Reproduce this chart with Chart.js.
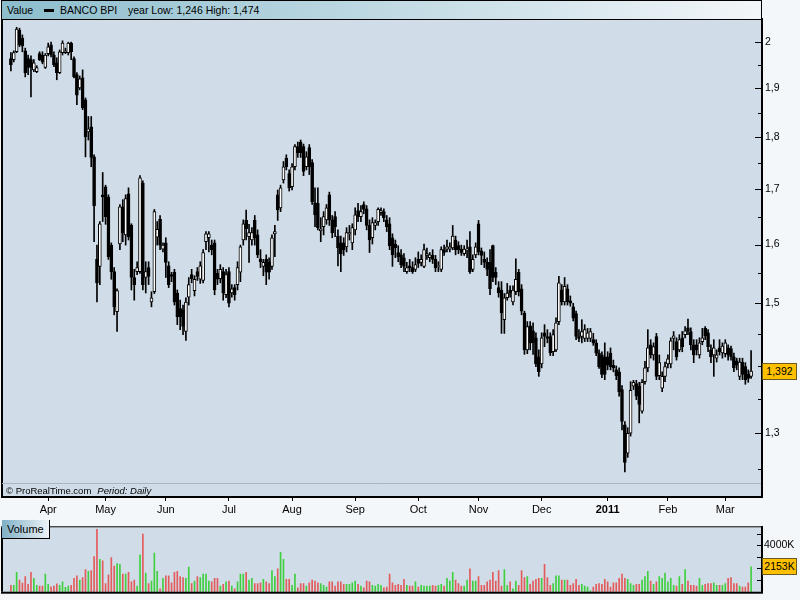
<!DOCTYPE html>
<html>
<head>
<meta charset="utf-8">
<title>BANCO BPI</title>
<script src="https://cdn.jsdelivr.net/npm/chart.js@4.4.1/dist/chart.umd.min.js"></script>
<style>
  body { margin: 0; background: #f4f7fa; font-family: 'Liberation Sans', Arial, sans-serif; color: #000; }
  #wrap { position: relative; width: 800px; height: 600px; overflow: hidden; }
  canvas { position: absolute; left: 0; }
  #priceCanvas { top: 0; }
  #volCanvas { top: 519px; }
  .head { position: absolute; left: 1px; top: 0; width: 759px; height: 18px; border: 1px solid #000;
          background: linear-gradient(to right, #8cbdcd, #f3f6f9); font-size: 10.5px; line-height: 18px; }
  .head span { position: absolute; top: 0; white-space: nowrap; }
  .head .icon { top: 8px; width: 10px; height: 3px; background: #000; }
  .foot { position: absolute; left: 6px; top: 484px; font-size: 9.5px; line-height: 13px; white-space: nowrap; }
  .foot i { margin-left: 6px; }
  .vol { position: absolute; left: 2px; top: 520px; width: 42px; height: 18px; padding-left: 5px;
         border-right: 1px solid #000; border-bottom: 1px solid #000;
         background: linear-gradient(to right, #7fb0c6, #eef3f7); font-size: 11px; line-height: 18px; }
  .tag { position: absolute; left: 762px; width: 33px; height: 15px; background: #ffc000; border: 1px solid #6b5a20;
         font-size: 10.5px; line-height: 15px; text-align: center; }
</style>
</head>
<body>
<div id="wrap">
  <canvas id="priceCanvas" width="800" height="519"></canvas>
  <canvas id="volCanvas" width="800" height="81"></canvas>
  <div class="head">
    <span style="left:5px">Value</span>
    <span class="icon" style="left:42px"></span>
    <span style="left:58px">BANCO BPI</span>
    <span id="yearText" style="left:126px"></span>
  </div>
  <div class="foot">© ProRealTime.com<i>Period: Daily</i></div>
  <div class="vol">Volume</div>
  <div class="tag" id="priceTag"></div>
  <div class="tag" id="volTag"></div>
</div>
<script>
'use strict';

// trading calendar (Euronext Lisbon, daily)
const startDay = '2010-03-15';
const endDay = '2011-03-14';
const holidays = ['2010-04-02', '2010-04-05'];
const monthLabels = ['Apr', 'May', 'Jun', 'Jul', 'Aug', 'Sep', 'Oct', 'Nov', 'Dec', '2011', 'Feb', 'Mar'];

const priceTicks = [1.25, 1.3, 1.35, 1.4, 1.45, 1.5, 1.55, 1.6, 1.65, 1.7, 1.75, 1.8, 1.85, 1.9, 1.95, 2];
const priceLabels = [1.3, 1.5, 1.6, 1.7, 1.8, 1.9, 2];
const volumeTicks = [1000, 2000, 3000, 4000, 5000];
const volumeLabels = [4000];

const opens = [
  1.963,1.961,1.978,2.026,2.008,1.980,1.963,1.961,1.939,1.935,
  1.974,1.971,1.944,1.974,1.993,1.971,1.954,1.933,1.976,1.976,
  1.976,1.997,1.963,1.929,1.901,1.922,1.876,1.811,1.821,1.762,
  1.574,1.562,1.690,1.705,1.686,1.599,1.553,1.486,1.601,1.668,
  1.617,1.692,1.634,1.543,1.553,1.553,1.712,1.543,1.560,1.502,
  1.519,1.613,1.645,1.592,1.603,1.563,1.548,1.552,1.517,1.491,
  1.489,1.454,1.510,1.548,1.521,1.553,1.540,1.538,1.605,1.612,
  1.599,1.603,1.550,1.541,1.553,1.514,1.553,1.517,1.526,1.531,
  1.552,1.608,1.643,1.614,1.608,1.643,1.617,1.575,1.562,1.574,
  1.570,1.562,1.619,1.690,1.666,1.718,1.759,1.730,1.705,1.743,
  1.782,1.791,1.782,1.743,1.780,1.751,1.675,1.674,1.624,1.632,
  1.644,1.690,1.644,1.650,1.615,1.603,1.603,1.596,1.619,1.603,
  1.626,1.661,1.650,1.672,1.664,1.634,1.612,1.634,1.641,1.657,
  1.659,1.644,1.637,1.612,1.601,1.586,1.582,1.577,1.553,1.563,
  1.560,1.557,1.574,1.569,1.562,1.581,1.577,1.581,1.574,1.562,
  1.557,1.591,1.592,1.592,1.594,1.608,1.598,1.592,1.584,1.591,
  1.596,1.557,1.582,1.637,1.589,1.574,1.569,1.569,1.598,1.552,
  1.526,1.522,1.473,1.509,1.522,1.502,1.519,1.552,1.524,1.484,
  1.425,1.463,1.455,1.444,1.414,1.403,1.452,1.446,1.446,1.422,
  1.425,1.470,1.522,1.502,1.524,1.504,1.494,1.483,1.446,1.446,
  1.443,1.443,1.443,1.441,1.436,1.420,1.417,1.414,1.414,1.420,
  1.401,1.394,1.391,1.364,1.312,1.272,1.300,1.369,1.373,1.369,
  1.332,1.376,1.397,1.433,1.417,1.446,1.385,1.366,1.384,1.403,
  1.403,1.443,1.438,1.425,1.444,1.449,1.460,1.454,1.433,1.433,
  1.417,1.438,1.459,1.452,1.425,1.417,1.412,1.428,1.420,1.419,
  1.428,1.427,1.414,1.408,1.384,1.406,1.399,1.387,1.384
];
const highs = [
  1.976,1.980,2.032,2.030,2.015,1.986,1.971,1.969,1.961,1.948,
  1.978,1.978,1.974,1.997,1.999,1.978,1.965,1.982,2.002,1.986,
  1.999,1.999,1.967,1.933,1.926,1.939,1.880,1.842,1.842,1.766,
  1.599,1.641,1.732,1.708,1.690,1.603,1.560,1.524,1.672,1.681,
  1.690,1.703,1.637,1.557,1.570,1.726,1.716,1.570,1.570,1.519,
  1.663,1.641,1.652,1.603,1.612,1.570,1.552,1.557,1.522,1.505,
  1.497,1.509,1.543,1.557,1.546,1.560,1.570,1.591,1.623,1.623,
  1.608,1.608,1.557,1.565,1.560,1.557,1.560,1.531,1.531,1.570,
  1.599,1.644,1.662,1.636,1.630,1.652,1.626,1.591,1.574,1.582,
  1.577,1.617,1.634,1.699,1.708,1.753,1.766,1.737,1.749,1.786,
  1.791,1.795,1.787,1.772,1.786,1.757,1.703,1.703,1.648,1.659,
  1.672,1.695,1.652,1.659,1.626,1.615,1.612,1.630,1.634,1.637,
  1.666,1.674,1.670,1.677,1.670,1.644,1.648,1.644,1.666,1.666,
  1.664,1.652,1.648,1.619,1.608,1.598,1.591,1.584,1.569,1.574,
  1.570,1.577,1.587,1.582,1.601,1.594,1.586,1.591,1.581,1.570,
  1.596,1.599,1.608,1.603,1.634,1.615,1.605,1.599,1.598,1.608,
  1.623,1.582,1.603,1.643,1.594,1.587,1.577,1.591,1.599,1.560,
  1.536,1.536,1.516,1.533,1.529,1.529,1.575,1.557,1.531,1.487,
  1.470,1.470,1.468,1.452,1.425,1.452,1.465,1.457,1.452,1.457,
  1.476,1.545,1.531,1.543,1.531,1.512,1.500,1.487,1.457,1.473,
  1.465,1.459,1.459,1.451,1.441,1.425,1.422,1.436,1.422,1.428,
  1.409,1.400,1.397,1.370,1.317,1.308,1.376,1.378,1.378,1.375,
  1.379,1.407,1.457,1.441,1.436,1.451,1.417,1.391,1.406,1.417,
  1.444,1.454,1.444,1.449,1.454,1.462,1.474,1.460,1.441,1.441,
  1.444,1.459,1.462,1.457,1.433,1.441,1.425,1.441,1.436,1.441,
  1.433,1.431,1.420,1.412,1.412,1.412,1.405,1.394,1.424
];
const lows = [
  1.937,1.956,1.976,1.989,1.978,1.924,1.929,1.882,1.935,1.933,
  1.959,1.952,1.942,1.969,1.967,1.946,1.918,1.931,1.971,1.974,
  1.971,1.961,1.922,1.866,1.897,1.856,1.762,1.795,1.743,1.605,
  1.502,1.531,1.641,1.636,1.574,1.540,1.481,1.454,1.591,1.605,
  1.599,1.608,1.522,1.505,1.548,1.550,1.522,1.517,1.531,1.494,
  1.516,1.599,1.591,1.587,1.543,1.526,1.536,1.497,1.465,1.457,
  1.449,1.440,1.497,1.534,1.512,1.538,1.533,1.534,1.591,1.587,
  1.582,1.514,1.531,1.534,1.505,1.509,1.494,1.510,1.505,1.522,
  1.536,1.599,1.608,1.569,1.599,1.599,1.577,1.560,1.546,1.531,
  1.540,1.557,1.579,1.643,1.659,1.712,1.737,1.697,1.699,1.737,
  1.761,1.761,1.726,1.737,1.728,1.672,1.632,1.626,1.605,1.617,
  1.636,1.634,1.612,1.614,1.563,1.553,1.581,1.587,1.608,1.591,
  1.617,1.641,1.641,1.655,1.626,1.586,1.601,1.626,1.634,1.652,
  1.641,1.623,1.591,1.562,1.577,1.570,1.560,1.553,1.550,1.553,
  1.550,1.553,1.560,1.563,1.560,1.574,1.570,1.567,1.553,1.553,
  1.553,1.581,1.587,1.587,1.591,1.582,1.584,1.581,1.581,1.577,
  1.550,1.553,1.577,1.582,1.565,1.560,1.546,1.514,1.536,1.531,
  1.510,1.451,1.451,1.505,1.510,1.497,1.514,1.512,1.481,1.418,
  1.419,1.425,1.418,1.399,1.384,1.397,1.430,1.436,1.416,1.416,
  1.422,1.465,1.497,1.497,1.497,1.495,1.471,1.441,1.438,1.436,
  1.438,1.438,1.438,1.432,1.416,1.396,1.382,1.379,1.394,1.394,
  1.391,1.379,1.354,1.305,1.246,1.266,1.296,1.364,1.349,1.315,
  1.329,1.372,1.391,1.412,1.409,1.379,1.379,1.361,1.376,1.397,
  1.397,1.425,1.409,1.422,1.422,1.444,1.449,1.425,1.405,1.417,
  1.412,1.433,1.441,1.422,1.405,1.384,1.406,1.417,1.412,1.414,
  1.409,1.409,1.391,1.394,1.379,1.379,1.372,1.375,1.381
];
const closes = [
  1.950,1.976,2.028,1.993,1.991,1.933,1.944,1.944,1.954,1.944,
  1.961,1.956,1.971,1.989,1.971,1.950,1.933,1.978,1.997,1.980,
  1.997,1.978,1.924,1.886,1.920,1.860,1.801,1.817,1.761,1.670,
  1.534,1.637,1.686,1.650,1.579,1.553,1.494,1.521,1.668,1.621,
  1.683,1.614,1.543,1.531,1.560,1.722,1.531,1.553,1.545,1.509,
  1.659,1.627,1.599,1.599,1.569,1.531,1.545,1.502,1.478,1.478,
  1.462,1.502,1.531,1.541,1.540,1.545,1.563,1.586,1.619,1.619,
  1.591,1.522,1.540,1.557,1.517,1.548,1.500,1.524,1.514,1.560,
  1.596,1.637,1.628,1.621,1.621,1.612,1.582,1.570,1.569,1.552,
  1.552,1.612,1.623,1.662,1.703,1.743,1.743,1.703,1.743,1.782,
  1.770,1.770,1.734,1.762,1.743,1.677,1.653,1.630,1.628,1.650,
  1.666,1.644,1.621,1.632,1.594,1.584,1.591,1.621,1.621,1.630,
  1.653,1.650,1.659,1.663,1.634,1.608,1.639,1.639,1.663,1.661,
  1.648,1.632,1.598,1.582,1.594,1.579,1.565,1.562,1.560,1.560,
  1.553,1.565,1.567,1.574,1.591,1.584,1.582,1.574,1.560,1.563,
  1.591,1.586,1.596,1.596,1.615,1.591,1.591,1.586,1.592,1.592,
  1.553,1.574,1.596,1.587,1.581,1.569,1.557,1.524,1.543,1.543,
  1.517,1.484,1.509,1.517,1.517,1.522,1.540,1.519,1.487,1.425,
  1.462,1.436,1.436,1.403,1.391,1.444,1.446,1.443,1.420,1.449,
  1.468,1.534,1.502,1.528,1.502,1.500,1.476,1.446,1.443,1.454,
  1.457,1.452,1.454,1.436,1.420,1.399,1.387,1.387,1.401,1.399,
  1.397,1.385,1.361,1.317,1.259,1.300,1.363,1.375,1.354,1.342,
  1.375,1.397,1.428,1.417,1.430,1.384,1.405,1.384,1.399,1.411,
  1.439,1.447,1.414,1.441,1.430,1.455,1.455,1.433,1.417,1.425,
  1.436,1.444,1.447,1.430,1.414,1.428,1.417,1.422,1.431,1.436,
  1.417,1.414,1.397,1.401,1.406,1.387,1.379,1.381,1.392
];
// volume in thousands of shares
const volumes = [
  550,550,1675,1000,750,1300,625,1675,1150,550,
  475,475,1525,625,425,475,675,550,850,375,
  475,550,1150,1375,1000,1225,1900,1750,1825,3025,
  5375,2800,2650,700,1450,2950,2200,2425,2350,1525,
  1525,1675,850,1000,475,3175,4975,1600,700,925,
  3325,1750,250,1150,1375,1375,775,1675,1750,1300,
  1225,1150,2125,700,925,1300,1225,1525,1525,925,
  850,1150,1150,475,625,850,925,475,250,850,
  1525,1525,1675,1000,1150,700,700,775,1075,850,
  700,1825,1300,1975,3400,2800,1075,1075,550,1525,
  325,700,700,475,775,1000,925,775,700,550,
  400,850,850,475,850,850,625,625,625,775,
  925,625,475,325,925,850,550,475,625,550,
  325,400,1525,775,550,625,550,1075,550,475,
  475,850,400,550,475,475,475,550,475,550,
  625,475,1150,925,1675,1000,700,475,475,1000,
  1975,925,925,1300,550,550,850,1000,1675,925,
  1825,475,1900,550,850,250,925,550,1825,1225,
  1300,625,925,1075,1150,1150,2350,1225,550,700,
  1375,1375,1000,1000,1000,550,700,1075,550,625,
  475,400,100,400,625,700,625,1075,850,400,
  775,775,1150,1525,1150,1075,700,550,625,625,
  1000,1300,1750,925,625,850,1300,1150,1600,850,
  1150,550,475,1300,625,1900,925,550,550,475,
  1150,550,625,700,700,775,550,550,550,700,
  1150,1225,700,700,475,400,400,775,2153
];

function tradingDays(from, to, skip) {
  const out = [];
  const d = new Date(from + 'T00:00:00Z');
  const end = new Date(to + 'T00:00:00Z');
  while (d <= end) {
    const iso = d.toISOString().slice(0, 10);
    const wd = d.getUTCDay();
    if (wd !== 0 && wd !== 6 && skip.indexOf(iso) < 0) {
      out.push(iso);
    }
    d.setUTCDate(d.getUTCDate() + 1);
  }
  return out;
}

const days = tradingDays(startDay, endDay, holidays);
if (days.length !== closes.length) {
  console.log('length mismatch', days.length, closes.length);
}

const monthStarts = [];
days.forEach((d, i) => {
  if (i > 0 && d.slice(5, 7) !== days[i - 1].slice(5, 7)) {
    monthStarts.push(i);
  }
});

const upDay = closes.map((c, i) => c >= opens[i]);
const fmt = (v, n) => v.toFixed(n).replace('.', ',');

// 2011 low / high for the header
const inYear = days.map((d, i) => i).filter(i => days[i].startsWith('2011'));
const yearLow = Math.min.apply(null, inYear.map(i => lows[i]));
const yearHigh = Math.max.apply(null, inYear.map(i => highs[i]));
document.getElementById('yearText').textContent =
  'year Low: ' + fmt(yearLow, 3) + ' High: ' + fmt(yearHigh, 3);

Chart.defaults.font.family = "'Liberation Sans', Arial, sans-serif";
Chart.defaults.font.size = 11;
Chart.defaults.color = '#000';

// panel background, inner tick marks and frame lines
const panelPlugin = {
  id: 'panel',
  beforeDraw(chart, args, opts) {
    const {ctx, chartArea: a} = chart;
    ctx.save();
    ctx.fillStyle = opts.background;
    ctx.fillRect(a.left, a.top, a.right - a.left, a.bottom - a.top);
    ctx.restore();
  },
  afterDraw(chart, args, opts) {
    const {ctx, chartArea: a} = chart;
    const ys = chart.scales.y;
    ctx.save();
    ctx.strokeStyle = '#000';
    ctx.lineWidth = 1;
    ctx.beginPath();
    opts.ticks.forEach(v => {
      const py = Math.round(ys.getPixelForValue(v)) + 0.5;
      const len = opts.labels.indexOf(v) >= 0 ? opts.major : opts.minor;
      ctx.moveTo(a.right - 1 - len, py);
      ctx.lineTo(a.right - 1, py);
    });
    ctx.stroke();
    ctx.fillStyle = '#000';
    ctx.fillRect(1, a.top, 2, a.bottom - a.top);
    if (opts.rule) {
      ctx.strokeStyle = '#a9b5c1';
      ctx.beginPath();
      ctx.moveTo(a.left, a.bottom - 13.5);
      ctx.lineTo(a.right - 1, a.bottom - 13.5);
      ctx.stroke();
    }
    if (opts.frame) {
      ctx.fillRect(1, a.top - 1, a.right - 1, 1);
      ctx.fillRect(1, a.bottom, a.right, 2);
    }
    ctx.restore();
  }
};

const xRange = {min: -3.1, max: days.length + 2.8};

const priceChart = new Chart(document.getElementById('priceCanvas'), {
  type: 'bar',
  data: {
    datasets: [
      {
        label: 'body',
        data: days.map((d, i) => ({x: i, y: [opens[i], closes[i]]})),
        grouped: false,
        order: 0,
        barThickness: 3,
        borderWidth: 1,
        borderSkipped: false,
        borderColor: '#000',
        backgroundColor: upDay.map(u => u ? '#ffffff' : '#000000')
      },
      {
        label: 'wick',
        data: days.map((d, i) => ({x: i, y: [lows[i], highs[i]]})),
        grouped: false,
        order: 1,
        barThickness: 1,
        borderWidth: 0,
        backgroundColor: '#000'
      }
    ]
  },
  options: {
    responsive: false,
    animation: false,
    events: [],
    layout: {padding: {top: 19, left: 2, right: 0, bottom: 0}},
    plugins: {
      legend: {display: false},
      tooltip: {enabled: false},
      panel: {background: '#d0dde8', ticks: priceTicks, labels: priceLabels, major: 6, minor: 3, rule: true}
    },
    scales: {
      x: {
        type: 'linear',
        offset: false,
        bounds: 'data',
        min: xRange.min,
        max: xRange.max,
        afterBuildTicks: s => { s.ticks = monthStarts.map(v => ({value: v})); },
        afterFit: s => { s.height = 22; },
        ticks: {
          autoSkip: false,
          maxRotation: 0,
          padding: 2,
          color: '#000',
          font: c => ({size: 11, weight: monthLabels[c.index] === '2011' ? 'bold' : 'normal'}),
          callback: v => monthLabels[monthStarts.indexOf(v)]
        },
        grid: {drawOnChartArea: false, offset: false, tickLength: 4, tickColor: '#000', tickWidth: 1},
        border: {color: '#000', width: 2}
      },
      y: {
        type: 'logarithmic',
        position: 'right',
        bounds: 'data',
        min: 1.212,
        max: 2.0506,
        afterBuildTicks: s => { s.ticks = priceLabels.map(v => ({value: v})); },
        afterFit: s => { s.width = 38; },
        ticks: {padding: 3, color: '#000', font: {size: 10.5}, callback: v => String(v).replace('.', ',')},
        grid: {drawOnChartArea: false, drawTicks: false},
        border: {color: '#000', width: 2}
      }
    }
  },
  plugins: [panelPlugin]
});

const volChart = new Chart(document.getElementById('volCanvas'), {
  type: 'bar',
  data: {
    datasets: [{
      label: 'Volume',
      data: days.map((d, i) => ({x: i, y: volumes[i]})),
      barThickness: 1,
      borderWidth: 0,
      backgroundColor: upDay.map(u => u ? '#3fcf3f' : '#e35b5b')
    }]
  },
  options: {
    responsive: false,
    animation: false,
    events: [],
    layout: {padding: {top: 1, left: 2, right: 0, bottom: 6}},
    plugins: {
      legend: {display: false},
      tooltip: {enabled: false},
      panel: {background: '#d0dde8', ticks: volumeTicks, labels: volumeLabels, major: 4, minor: 4, frame: true}
    },
    scales: {
      x: {type: 'linear', offset: false, bounds: 'data', min: xRange.min, max: xRange.max, display: false},
      y: {
        type: 'linear',
        position: 'right',
        bounds: 'data',
        min: 0,
        max: 5550,
        afterBuildTicks: s => { s.ticks = volumeLabels.map(v => ({value: v})); },
        afterFit: s => { s.width = 38; },
        ticks: {padding: 2, color: '#000', font: {size: 10.5}, callback: v => v + 'K'},
        grid: {drawOnChartArea: false, drawTicks: false},
        border: {color: '#000', width: 2}
      }
    }
  },
  plugins: [panelPlugin]
});

// last value tags on the right axes
const lastClose = closes[closes.length - 1];
const priceTag = document.getElementById('priceTag');
priceTag.textContent = fmt(lastClose, 3);
priceTag.style.top = (priceChart.scales.y.getPixelForValue(lastClose) - 8.5) + 'px';

const lastVol = volumes[volumes.length - 1];
const volTag = document.getElementById('volTag');
volTag.textContent = lastVol + 'K';
volTag.style.top = (519 + volChart.scales.y.getPixelForValue(lastVol) - 8.5) + 'px';
</script>
</body>
</html>
